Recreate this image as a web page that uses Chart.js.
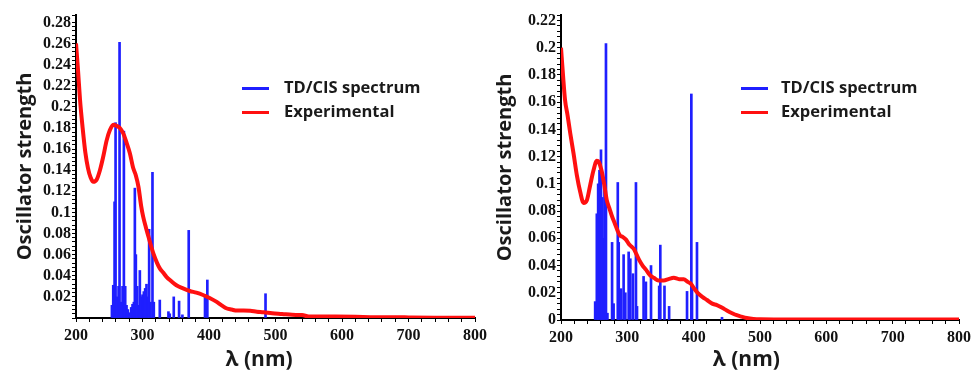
<!DOCTYPE html>
<html>
<head>
<meta charset="utf-8">
<script src="https://cdn.jsdelivr.net/npm/chart.js@4.4.1/dist/chart.umd.min.js"></script>
<style>
  html, body { margin: 0; padding: 0; background: #fff; }
  .panel { position: absolute; top: 0; height: 375px; }
  .key { position: absolute; font-family: "Open Sans", sans-serif; font-weight: bold; font-size: 16.5px; color: #1a1a1a; line-height: 20px; white-space: nowrap; }
  .swatch { position: absolute; width: 27px; height: 3px; }
</style>
</head>
<body>

<div class="panel" style="left:0;width:500px;">
  <canvas id="chartA" width="500" height="375"></canvas>
</div>
<div class="panel" style="left:485px;width:486px;">
  <canvas id="chartB" width="486" height="375"></canvas>
</div>

<!-- legends -->
<div class="swatch" style="left:242px;top:87px;background:#1f1fff;"></div>
<div class="key" style="left:284px;top:77px;">TD/CIS spectrum</div>
<div class="swatch" style="left:242px;top:111px;background:#ff1010;"></div>
<div class="key" style="left:284px;top:101px;">Experimental</div>

<div class="swatch" style="left:741px;top:87px;background:#1f1fff;"></div>
<div class="key" style="left:781px;top:77px;">TD/CIS spectrum</div>
<div class="swatch" style="left:741px;top:111px;background:#ff1010;"></div>
<div class="key" style="left:781px;top:101px;">Experimental</div>

<script>
// ---------- data: left panel ----------
var stickNmA = [254, 256, 258, 259.5, 262, 264, 265.5, 268, 270, 272,
  274, 276, 278, 281, 283, 285, 287, 288.5, 290, 292,
  294, 296, 298, 300, 302, 304, 306, 308, 310, 312,
  315, 317, 326, 339, 341, 347, 355, 360, 369.5, 394,
  397.5, 485];
var stickFA = [0.012, 0.031, 0.11, 0.185, 0.02, 0.03, 0.261, 0.015, 0.03, 0.177,
  0.03, 0.012, 0.008, 0.005, 0.01, 0.013, 0.015, 0.123, 0.06, 0.03,
  0.012, 0.045, 0.02, 0.022, 0.025, 0.028, 0.032, 0.02, 0.084, 0.015,
  0.138, 0.015, 0.017, 0.006, 0.004, 0.02, 0.016, 0.003, 0.083, 0.022,
  0.036, 0.023];
var expNmA = [200, 203, 206, 210, 214, 218, 222, 226, 231, 236,
  241, 246, 251, 256, 261, 266, 271, 276, 281, 286,
  290, 294, 298, 301, 305, 309, 313, 317, 322, 326,
  331, 336, 343, 351, 361, 371, 381, 391, 401, 411,
  419, 427, 434, 442, 452, 462, 472, 482, 495, 510,
  525, 540, 550, 570, 590, 620, 650, 680, 705, 740,
  770, 800];
var expFA = [0.26, 0.235, 0.207, 0.18, 0.157, 0.142, 0.133, 0.129, 0.131, 0.14,
  0.153, 0.168, 0.178, 0.183, 0.182, 0.18, 0.175, 0.166, 0.156, 0.142,
  0.135, 0.124, 0.106, 0.096, 0.086, 0.077, 0.068, 0.06, 0.052, 0.047,
  0.043, 0.039, 0.035, 0.031, 0.028, 0.0256, 0.024, 0.0218, 0.019, 0.0155,
  0.012, 0.009, 0.008, 0.007, 0.007, 0.0068, 0.006, 0.0055, 0.0045, 0.0038,
  0.003, 0.0028, 0.0015, 0.0014, 0.0014, 0.0012, 0.0008, 0.0008, 0.0004, 0.0003,
  0.0003, 0.0003];

// ---------- data: right panel ----------
var stickNmB = [251.5, 254, 256, 258, 260.3, 262, 264, 265.5, 267.8, 270,
  277, 279.3, 285.6, 287, 290.4, 294.4, 297, 302, 304.5, 308.5,
  313, 314.6, 324.5, 328, 335.7, 348, 349.7, 356, 363, 390,
  396.5, 397.5, 405, 442.7];
var stickFB = [0.0135, 0.078, 0.1, 0.11, 0.125, 0.09, 0.06, 0.1, 0.203, 0.005,
  0.057, 0.012, 0.101, 0.057, 0.023, 0.048, 0.02, 0.05, 0.045, 0.034,
  0.101, 0.01, 0.032, 0.028, 0.04, 0.025, 0.055, 0.025, 0.01, 0.021,
  0.166, 0.025, 0.057, 0.002];
var expNmB = [200, 203, 206, 210, 214, 219, 224, 229, 234, 239,
  244, 249, 254, 257, 261, 265, 269, 273, 277, 281,
  285, 289, 293, 298, 302, 306, 310, 314, 318, 323,
  328, 334, 340, 347, 355, 362, 370, 378, 385, 391,
  396, 401, 406, 413, 420, 428, 435, 443, 450, 458,
  465, 472, 480, 490, 500, 550, 600, 700, 800];
var expFB = [0.2, 0.18, 0.162, 0.15, 0.137, 0.122, 0.106, 0.094, 0.086, 0.088,
  0.099, 0.11, 0.117, 0.116, 0.11, 0.1, 0.088, 0.082, 0.076, 0.071,
  0.066, 0.062, 0.061, 0.059, 0.056, 0.054, 0.052, 0.048, 0.044, 0.04,
  0.037, 0.033, 0.031, 0.029, 0.029, 0.03, 0.031, 0.03, 0.03, 0.028,
  0.0265, 0.023, 0.02, 0.017, 0.0147, 0.012, 0.011, 0.009, 0.007, 0.005,
  0.0035, 0.0025, 0.0015, 0.0008, 0.0005, 0.0003, 0.0003, 0.0003, 0.0003];

var xRange = [200, 800];
var xMajor = 100;
var yMajor = 0.02;

function pairs(xs, ys) {
  return xs.map(function (x, i) { return { x: x, y: ys[i] }; });
}

function makeSpectrum(id, cfg) {
  var ctx = document.getElementById(id).getContext('2d');
  // trailing spaces nudge the axis title left, as in the original figure
  var pad = '\u00a0'.repeat(cfg.titleNudge);
  return new Chart(ctx, {
    type: 'bar',
    data: {
      datasets: [{
        type: 'line',
        label: 'Experimental',
        data: pairs(cfg.expNm, cfg.expF),
        borderColor: '#ff1010',
        borderWidth: 4,
        pointRadius: 0,
        cubicInterpolationMode: 'monotone',
        order: 0
      }, {
        type: 'bar',
        label: 'TD/CIS spectrum',
        data: pairs(cfg.stickNm, cfg.stickF),
        backgroundColor: '#1f1fff',
        barThickness: 2,
        grouped: false,
        order: 1
      }]
    },
    options: {
      responsive: false,
      animation: false,
      layout: { padding: { left: 0, right: cfg.padRight, top: 15, bottom: 0 } },
      plugins: { legend: { display: false }, tooltip: { enabled: false } },
      scales: {
        x: {
          type: 'linear',
          min: xRange[0], max: xRange[1],
          offset: false,
          border: { color: '#000', width: 2 },
          grid: { drawOnChartArea: false, color: '#000', tickLength: 4, offset: false },
          ticks: {
            stepSize: 20, autoSkip: false, maxRotation: 0, padding: 4, color: '#111',
            font: { family: 'Liberation Serif', weight: 'bold', size: 16 },
            callback: function (v) { return v % xMajor === 0 ? String(v) : ''; }
          },
          title: {
            display: true, text: 'λ (nm)' + pad, color: '#1a1a1a',
            font: { family: 'Open Sans', weight: 'bold', size: 21 },
            padding: { top: 0, bottom: 2 }
          },
          afterFit: function (s) {
            s.height = cfg.xHeight;
            s.paddingLeft = 0;
            s.paddingRight = 0;
          }
        },
        y: {
          min: 0, max: cfg.yMax,
          border: { color: '#000', width: 2 },
          grid: { drawOnChartArea: false, color: '#000', tickLength: 4 },
          ticks: {
            stepSize: 0.004, autoSkip: false, maxTicksLimit: 500, padding: 1, color: '#111',
            font: { family: 'Liberation Serif', weight: 'bold', size: 16 },
            callback: function (v) {
              var r = Math.round(v / yMajor);
              if (Math.abs(v - r * yMajor) > 1e-6) return '';
              if (r === 0 && cfg.hideZero) return '';
              return String(+(r * yMajor).toFixed(2));
            }
          },
          title: {
            display: true, text: 'Oscillator strength', color: '#1a1a1a',
            font: { family: 'Open Sans', weight: 'bold', size: 20 },
            padding: { top: cfg.titlePad, bottom: 0 }
          },
          afterFit: function (s) {
            s.width = cfg.yWidth;
            s.paddingTop = 0;
            s.paddingBottom = 0;
          }
        }
      }
    }
  });
}

makeSpectrum('chartA', {
  stickNm: stickNmA, stickF: stickFA, expNm: expNmA, expF: expFA,
  yMax: 0.287, hideZero: true, yWidth: 76, xHeight: 57, padRight: 25, titlePad: 13, titleNudge: 6
});

makeSpectrum('chartB', {
  stickNm: stickNmB, stickF: stickFB, expNm: expNmB, expF: expFB,
  yMax: 0.224, hideZero: false, yWidth: 76, xHeight: 55, padRight: 12, titlePad: 8, titleNudge: 5
});
</script>
</body>
</html>
